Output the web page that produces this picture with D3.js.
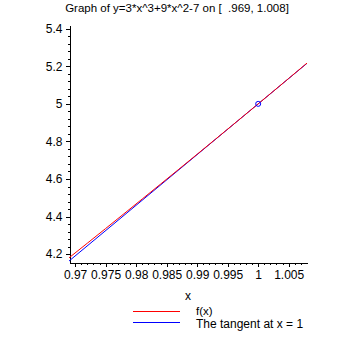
<!DOCTYPE html>
<html>
<head>
<meta charset="utf-8">
<script src="https://cdn.jsdelivr.net/npm/d3@7"></script>
<style>
  html, body { margin: 0; padding: 0; background: #fff; }
  svg { display: block; }
  text { font-family: "Liberation Sans", Arial, sans-serif; fill: #000; }
</style>
</head>
<body>
<svg id="chart" width="355" height="355"></svg>
<script>
// ---- data ----
const titleText = "Graph of y=3*x^3+9*x^2-7 on [  .969, 1.008]";
const curveX = [0.969, 0.972, 0.975, 0.978, 0.981, 0.984, 0.987, 0.990, 0.993, 0.996, 0.999, 1.002, 1.005, 1.008];
const curveY = [4.1802, 4.2580, 4.3362, 4.4147, 4.4935, 4.5726, 4.6520, 4.7318, 4.8119, 4.8923, 4.9730, 5.0541, 5.1355, 5.2172];
const tangentX = [0.969, 1.008];
const tangentY = [4.163, 5.216];
const pointX = [1];
const pointY = [5];
const xTickValues = [0.97, 0.975, 0.98, 0.985, 0.99, 0.995, 1, 1.005];
const xTickLabels = ["0.97", "0.975", "0.98", "0.985", "0.99", "0.995", "1", "1.005"];
const yTickValues = [4.2, 4.4, 4.6, 4.8, 5, 5.2, 5.4];
const yTickLabels = ["4.2", "4.4", "4.6", "4.8", "5", "5.2", "5.4"];
const xMinorTicks = d3.range(970, 1008).map(v => v / 1000);
const yMinorTicks = d3.range(105, 136).map(v => v * 0.04);
const seriesNames = ["f(x)", "The tangent at x = 1"];
const seriesColors = ["#ff0000", "#0000ff"];

// ---- scales ----
const svg = d3.select("#chart");
const x = d3.scaleLinear().domain([0.969, 1.008]).range([69, 307]);
const y = d3.scaleLinear().domain([4.158, 5.42]).range([262, 25]);

// title
svg.append("text").attr("x", 177).attr("y", 12).attr("text-anchor", "middle")
  .style("font-size", "11.5px").style("white-space", "pre").attr("xml:space", "preserve")
  .text(titleText);

// ---- axes ----
const xMinor = svg.append("g").attr("transform", `translate(0,${y.range()[0] + 0.5})`)
  .call(d3.axisBottom(x).tickValues(xMinorTicks).tickSize(2).tickSizeOuter(0).tickFormat(""));
xMinor.select(".domain").remove();
const xAxis = svg.append("g").attr("transform", `translate(0,${y.range()[0] + 0.5})`)
  .call(d3.axisBottom(x).tickValues(xTickValues).tickSize(4).tickSizeOuter(0)
    .tickFormat((d, i) => xTickLabels[i]).tickPadding(4));
xAxis.selectAll("text").style("font-size", "12px").attr("fill", "#000");

const yMinor = svg.append("g").attr("transform", `translate(${x.range()[0] + 0.5},0)`)
  .call(d3.axisLeft(y).tickValues(yMinorTicks.filter(v => v > 4.158 && v < 5.42)).tickSize(2).tickSizeOuter(0).tickFormat(""));
yMinor.select(".domain").remove();
const yAxis = svg.append("g").attr("transform", `translate(${x.range()[0] + 0.5},0)`)
  .call(d3.axisLeft(y).tickValues(yTickValues).tickSize(4).tickSizeOuter(0)
    .tickFormat((d, i) => yTickLabels[i]).tickPadding(3));
yAxis.selectAll("text").style("font-size", "12px").attr("fill", "#000");
svg.selectAll(".domain, .tick line").attr("stroke", "#000").style("shape-rendering", "crispEdges");

// x axis label
svg.append("text").attr("x", 188).attr("y", 300).attr("text-anchor", "middle")
  .style("font-size", "12px").text("x");

// ---- series ----
const line = d3.line().x(d => x(d[0])).y(d => y(d[1]));
svg.append("path").datum(tangentX.map((v, i) => [v, tangentY[i]]))
  .attr("d", line).attr("fill", "none").attr("stroke", seriesColors[1]).attr("stroke-width", 1);
svg.append("path").datum(curveX.map((v, i) => [v, curveY[i]]))
  .attr("d", line).attr("fill", "none").attr("stroke", seriesColors[0]).attr("stroke-width", 1);
svg.selectAll("circle.pt").data(pointX.map((v, i) => [v, pointY[i]])).enter()
  .append("circle").attr("class", "pt")
  .attr("cx", d => x(d[0])).attr("cy", d => y(d[1])).attr("r", 2.5)
  .attr("fill", "none").attr("stroke", "#0000ff").attr("stroke-width", 1);

// ---- legend ----
const legend = svg.append("g");
seriesNames.forEach((name, i) => {
  const ly = 311.5 + i * 11;
  legend.append("line").attr("x1", 133).attr("x2", 180).attr("y1", ly).attr("y2", ly)
    .attr("stroke", seriesColors[i]).attr("stroke-width", 1).style("shape-rendering", "crispEdges");
  legend.append("text").attr("x", 196).attr("y", i === 0 ? 314.5 : 327.5)
    .style("font-size", i === 0 ? "11.5px" : "12px").text(name);
});
</script>
</body>
</html>
